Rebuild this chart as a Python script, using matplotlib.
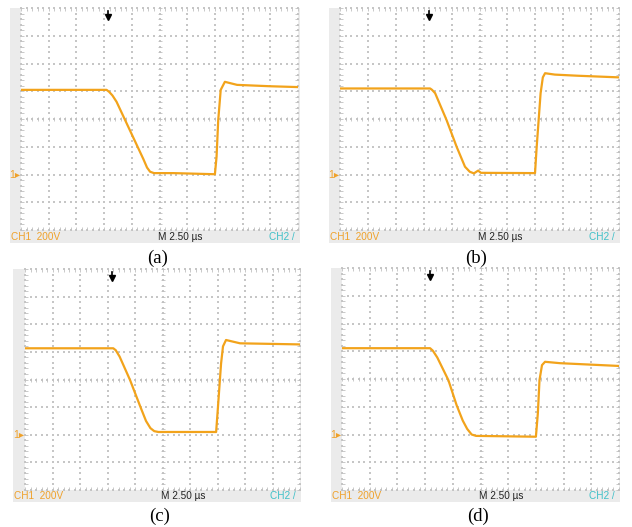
import matplotlib
matplotlib.use("Agg")
import matplotlib.pyplot as plt
import matplotlib.transforms as mtransforms
from matplotlib.patches import Rectangle

plt.rcParams['lines.scale_dashes'] = False

# ---------------- data (time in µs, voltage in V) ----------------
time_per_div = 2.5      # µs / div
volt_per_div = 200      # V / div
panel_labels = ["(a)", "(b)", "(c)", "(d)"]

t_a = [0, 7.725, 7.95, 8.25, 8.625, 11.05, 11.375, 11.65, 12.0, 13.75, 17.5, 17.65, 17.8, 18.025, 18.4, 19.5, 22.5, 25]
v_a = [610, 610, 596, 570, 524, 110, 50, 20, 10, 10, 2, 128, 392, 610, 668, 646, 636, 630]

t_b = [0, 8.075, 8.25, 8.525, 9.55, 10.45, 11.2, 11.625, 12.0, 12.375, 12.625, 17.475, 17.625, 17.975, 18.175, 18.375, 19.25, 21.25, 25]
v_b = [620, 620, 610, 586, 392, 200, 56, 20, 8, 28, 12, 10, 200, 586, 700, 730, 720, 712, 700]

t_c = [0, 8.025, 8.25, 8.6, 9.55, 10.5, 11.0, 11.4, 11.75, 12.125, 17.375, 17.5, 17.825, 18.0, 18.275, 19.55, 25]
v_c = [626, 626, 612, 566, 396, 200, 100, 48, 26, 20, 20, 154, 516, 640, 686, 662, 654]

t_d = [0, 7.95, 8.2, 8.6, 9.6, 10.35, 10.9, 11.3, 11.7, 12.1, 17.5, 17.675, 17.825, 18.05, 18.325, 19.675, 25]
v_d = [622, 622, 604, 555, 392, 210, 100, 40, 0, -10, -16, 152, 392, 500, 524, 514, 494]

trigger_t = [7.85, 7.975, 7.875, 7.95]

ch1_text = "CH1  200V"
time_text = "M 2.50 µs"
ch2_text = "CH2 /"

# ---------------- layout (pixels) ----------------
W, H, DPI = 632, 527, 100
fig = plt.figure(figsize=(W / DPI, H / DPI), dpi=DPI)
fig.patch.set_facecolor("white")

grid_boxes = [(21, 8, 298, 230), (340, 8, 619, 230), (25, 269, 300, 490), (342, 268, 619, 490)]
gray_boxes = [(10, 8, 300, 243), (329, 8, 620, 243), (13, 269, 301, 502), (331, 268, 620, 502)]
label_pos = [(158, 258), (476, 258), (160, 516), (478, 516)]

TRACE = "#F2A31B"
CH1C = "#EFA12A"
CH2C = "#3FC0C8"
GRAY = "#EBEBEB"
DOT = "#C6C6C6"
TICKC = "#C0C0C0"


def rect(x0, y0, x1, y1):
    return [x0 / W, 1 - y1 / H, (x1 - x0) / W, (y1 - y0) / H]


def ftext(x, y, s, **kw):
    fig.text(x / W, 1 - y / H, s, **kw)


series = [(t_a, v_a), (t_b, v_b), (t_c, v_c), (t_d, v_d)]
xmax = 10 * time_per_div
ymin, ymax = -2 * volt_per_div, 6 * volt_per_div

for i, ((t, v), gb, bb) in enumerate(zip(series, grid_boxes, gray_boxes)):
    # gray instrument background
    x0, y0, x1, y1 = bb
    fig.patches.append(Rectangle((x0 / W, 1 - y1 / H), (x1 - x0) / W, (y1 - y0) / H,
                                 transform=fig.transFigure, facecolor=GRAY,
                                 edgecolor="none", zorder=-5))
    ax = fig.add_axes(rect(*gb))
    ax.set_zorder(1)
    ax.set_facecolor("white")
    ax.set_xlim(0, xmax)
    ax.set_ylim(ymin, ymax)
    for s in ax.spines.values():
        s.set_visible(False)
    ax.set_xticks([k * time_per_div for k in range(11)])
    ax.set_yticks([ymin + k * volt_per_div for k in range(9)])
    ax.set_xticks([k * time_per_div / 5 for k in range(51)], minor=True)
    ax.set_yticks([ymin + k * volt_per_div / 5 for k in range(41)], minor=True)
    ax.tick_params(which="both", direction="in", length=2, width=0.6, color=TICKC,
                   top=True, right=True, labelbottom=False, labelleft=False)

    # dotted graticule
    xs_fine = [k * time_per_div / 5 for k in range(51)]
    ys_fine = [ymin + k * volt_per_div / 5 for k in range(41)]
    for k in range(11):
        xg = k * time_per_div
        ax.scatter([xg] * len(ys_fine), ys_fine, s=0.7, marker="s", color=DOT,
                   linewidths=0, zorder=1, clip_on=False)
    for k in range(9):
        yg = ymin + k * volt_per_div
        ax.scatter(xs_fine, [yg] * len(xs_fine), s=0.7, marker="s", color=DOT,
                   linewidths=0, zorder=1, clip_on=False)
    # center-line minor ticks
    xc = 5 * time_per_div
    yc = ymin + 4 * volt_per_div
    ax.plot([xc] * len(ys_fine), ys_fine, linestyle="none", marker="_", ms=3,
            mew=0.6, color=TICKC, zorder=1)
    ax.plot(xs_fine, [yc] * len(xs_fine), linestyle="none", marker="|", ms=3,
            mew=0.6, color=TICKC, zorder=1)

    # waveform
    ax.plot(t, v, color=TRACE, lw=1.6, solid_joinstyle="round", zorder=3)

    # trigger marker
    bt = mtransforms.blended_transform_factory(ax.transData, ax.transAxes)
    tt = trigger_t[i]
    ax.plot([tt, tt], [0.985, 0.962], transform=bt, color="black", lw=1.2,
            clip_on=False, zorder=4)
    ax.plot([tt], [0.958], transform=bt, marker="v", ms=4.2, color="black",
            clip_on=False, zorder=4, linestyle="none")

    # ground marker
    ax.annotate("1▸", xy=(0, 0), xycoords="data", xytext=(-0.8, 0),
                textcoords="offset points", ha="right", va="center",
                color=CH1C, fontsize=7.5, family=["Liberation Sans", "DejaVu Sans"],
                annotation_clip=False)

    # bottom status strip
    gx0, gy0, gx1, gy1 = gb
    ystrip = (gy1 + y1) / 2
    ftext(x0 + 1, ystrip, ch1_text, ha="left", va="center", color=CH1C,
          fontsize=7.2, family="Liberation Sans")
    ftext(gx0 + 0.495 * (gx1 - gx0), ystrip, time_text, ha="left", va="center",
          color="#222222", fontsize=7.2, family=["Liberation Sans", "DejaVu Sans"])
    ftext(x1 - 5, ystrip, ch2_text, ha="right", va="center", color=CH2C,
          fontsize=7.2, family="Liberation Sans")

    # panel label
    lx, ly = label_pos[i]
    ftext(lx, ly, panel_labels[i], ha="center", va="center", fontsize=13.5,
          family="Liberation Serif", color="black")

fig.savefig("out.png", dpi=DPI, facecolor="white")
